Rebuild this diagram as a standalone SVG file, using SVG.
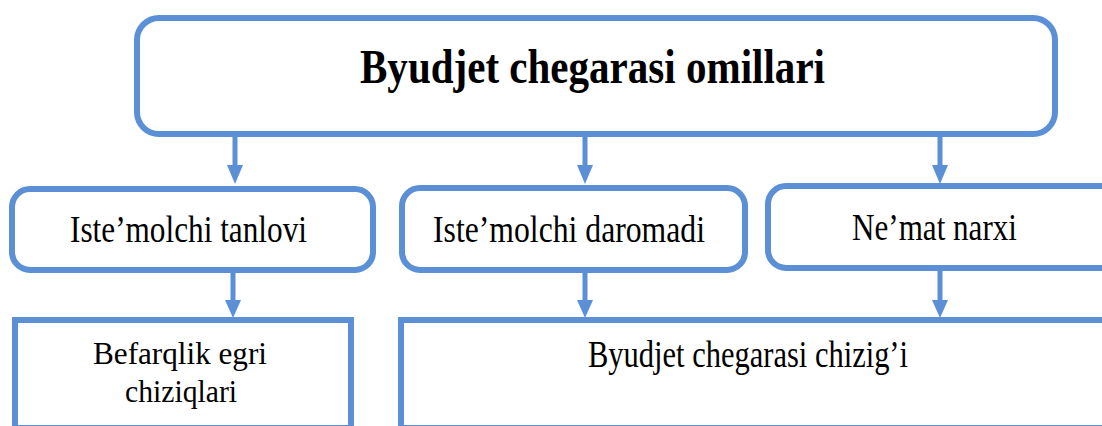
<svg xmlns="http://www.w3.org/2000/svg" width="1102" height="426" viewBox="0 0 1102 426">
<style>
.box{fill:#ffffff;stroke:#5b8fd6;stroke-width:6}
.lnk{stroke:#5b8fd6;stroke-width:5;fill:none}
.t{font-family:"Liberation Serif","Times New Roman",serif;fill:#000000;text-anchor:start}
.title{font-size:48px;font-weight:bold}
.lbl{font-size:38px}
.sm{font-size:32px}
</style>
<rect width="1102" height="426" fill="#ffffff"/>
<g id="connectors">
<line class="lnk" x1="235" y1="137" x2="235" y2="166"/>
<path d="M227,165 L243,165 L235,184 Z" fill="#5b8fd6"/>
<line class="lnk" x1="585" y1="137" x2="585" y2="166"/>
<path d="M577,165 L593,165 L585,184 Z" fill="#5b8fd6"/>
<line class="lnk" x1="940" y1="137" x2="940" y2="166"/>
<path d="M932,165 L948,165 L940,184 Z" fill="#5b8fd6"/>
<line class="lnk" x1="233" y1="272" x2="233" y2="301"/>
<path d="M225,300 L241,300 L233,318 Z" fill="#5b8fd6"/>
<line class="lnk" x1="585" y1="272" x2="585" y2="301"/>
<path d="M577,300 L593,300 L585,318 Z" fill="#5b8fd6"/>
<line class="lnk" x1="940" y1="270" x2="940" y2="301"/>
<path d="M932,300 L948,300 L940,318 Z" fill="#5b8fd6"/>
</g>
<g id="node-title">
<rect class="box" x="137" y="18" width="918" height="116" rx="22" ry="22"/>
<text class="t title" x="360" y="83" textLength="465" lengthAdjust="spacingAndGlyphs">Byudjet chegarasi omillari</text>
</g>
<g id="node-tanlov">
<rect class="box" x="12" y="189" width="361" height="81" rx="18" ry="18"/>
<text class="t lbl" x="70" y="242" textLength="237" lengthAdjust="spacingAndGlyphs">Iste’molchi tanlovi</text>
</g>
<g id="node-daromad">
<rect class="box" x="402" y="188" width="343" height="82" rx="18" ry="18"/>
<text class="t lbl" x="433" y="242" textLength="272" lengthAdjust="spacingAndGlyphs">Iste’molchi daromadi</text>
</g>
<g id="node-narx">
<rect class="box" x="768" y="186" width="360" height="82" rx="18" ry="18"/>
<text class="t lbl" x="852" y="240" textLength="165" lengthAdjust="spacingAndGlyphs">Ne’mat narxi</text>
</g>
<g id="node-befarqlik">
<rect class="box" x="15" y="320" width="336" height="108"/>
<text class="t sm" x="93" y="364" textLength="174" lengthAdjust="spacingAndGlyphs">Befarqlik egri</text>
<text class="t sm" x="125" y="402" textLength="112" lengthAdjust="spacingAndGlyphs">chiziqlari</text>
</g>
<g id="node-chiziq">
<rect class="box" x="401" y="320" width="720" height="108"/>
<text class="t lbl" x="588" y="367" textLength="320" lengthAdjust="spacingAndGlyphs">Byudjet chegarasi chizig’i</text>
</g>
</svg>
